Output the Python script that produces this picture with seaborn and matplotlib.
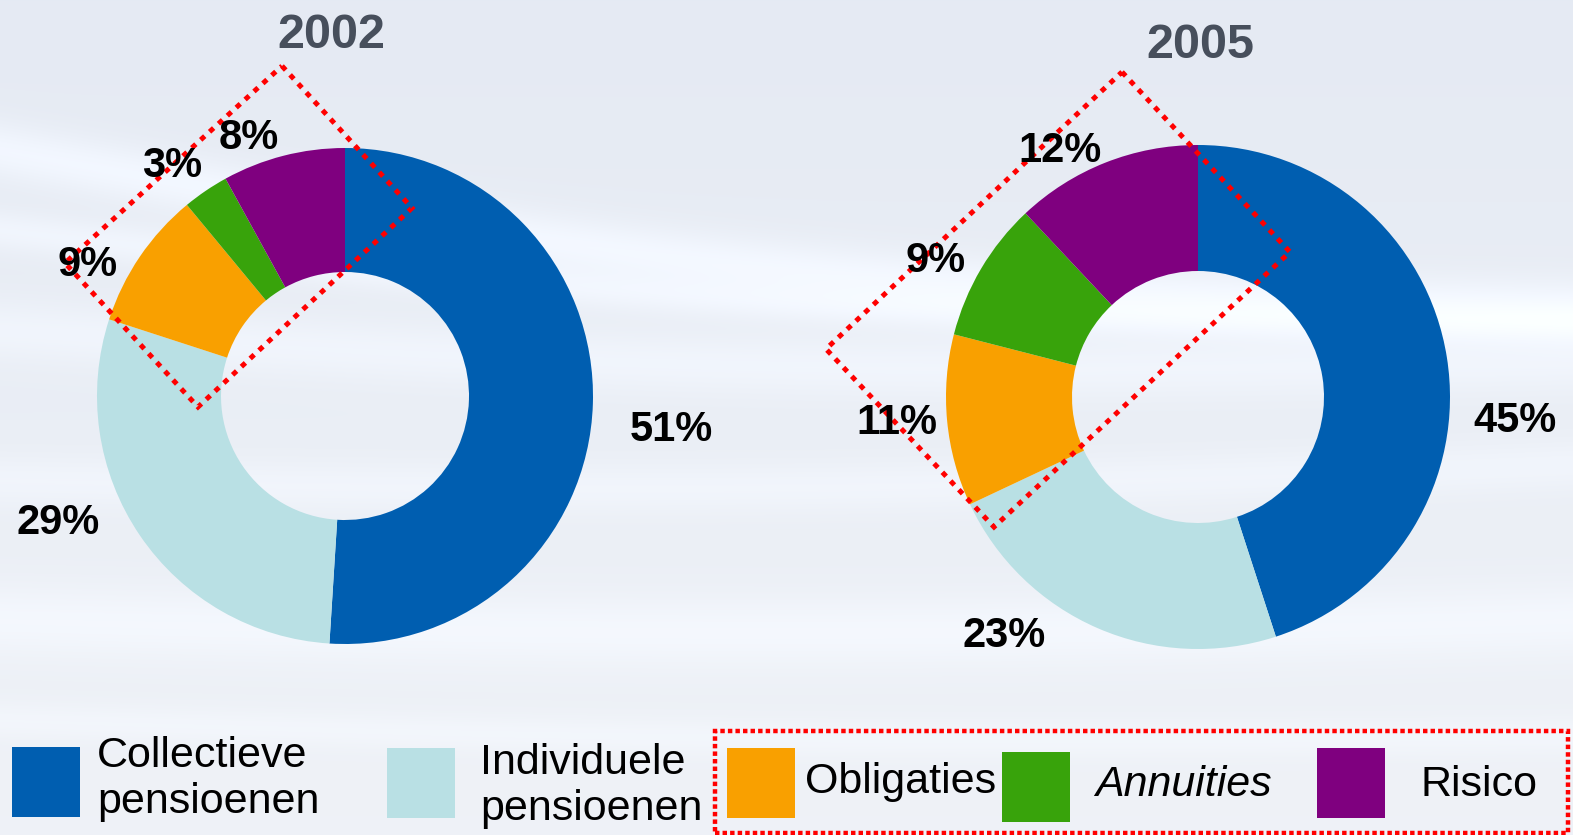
import numpy as np
import pandas as pd
import matplotlib
matplotlib.use("Agg")
import matplotlib.pyplot as plt
import seaborn as sns
from matplotlib.patches import Rectangle, Polygon

# ---------------- data ----------------
categories = ["Collectieve\npensioenen", "Individuele\npensioenen", "Obligaties", "Annuities", "Risico"]
years = ["2002", "2005"]
values_2002 = [51, 29, 9, 3, 8]
values_2005 = [45, 23, 11, 9, 12]
pct_labels_2002 = ["51%", "29%", "9%", "3%", "8%"]
pct_labels_2005 = ["45%", "23%", "11%", "9%", "12%"]

df = pd.DataFrame({"category": categories, "2002": values_2002, "2005": values_2005})

# ---------------- style ----------------
sns.set_theme(style="white")
plt.rcParams["font.family"] = ["Liberation Sans", "DejaVu Sans"]
palette = sns.color_palette(["#005eb0", "#b9e0e4", "#f9a000", "#38a30b", "#7f007f"])

W, H = 1573, 835
fig = plt.figure(figsize=(W / 100, H / 100), dpi=100)
ax = fig.add_axes([0, 0, 1, 1])


def py(y):
    return H - y


# ---------------- background ----------------
Y, X = np.mgrid[0:H, 0:W].astype(float)
top = np.array([0.898, 0.918, 0.953])
bot = np.array([0.937, 0.949, 0.969])
t = (Y / H)[..., None]
img = top * (1 - t) + bot * t
light = np.zeros((H, W))
for a, b, c, w, amp in [(150, 0.10, 40, 28, 0.045), (230, 0.06, 25, 20, 0.035),
                        (330, 0.02, 20, 30, 0.03), (480, -0.01, 15, 25, 0.025),
                        (620, 0.0, 12, 35, 0.03), (720, 0.01, 10, 18, 0.02)]:
    yc = a + b * X + c * np.sin(X / 500.0)
    light += amp * np.exp(-((Y - yc) / w) ** 2)
img = np.clip(img + light[..., None], 0, 1)
ax.imshow(img, extent=(0, W, 0, H), origin="upper", zorder=0, aspect="auto")

# ---------------- donuts ----------------
donuts = [
    dict(year=years[0], vals=df["2002"].tolist(), pcts=pct_labels_2002, cx=345, cy=396, r=248,
         title_xy=(331, 48),
         lab=[(-3.6, 1.32), (-10.9, 1.26), (6.8, 1.17), (2.4, 1.17), (5.8, 1.12)],
         box=[(282, 66), (412, 208), (198, 407), (65, 263)]),
    dict(year=years[1], vals=df["2005"].tolist(), pcts=pct_labels_2005, cx=1198, cy=397, r=252,
         title_xy=(1200, 58),
         lab=[(-12.8, 1.26), (-16.0, 1.21), (-1.1, 1.20), (2.7, 1.18), (7.4, 1.13)],
         box=[(1122, 72), (1290, 252), (994, 527), (826, 349)]),
]

for d in donuts:
    wedges, _ = ax.pie(d["vals"], colors=palette, startangle=90, counterclock=False,
                       radius=d["r"], center=(d["cx"], py(d["cy"])),
                       wedgeprops=dict(width=d["r"] / 2, edgecolor="none", linewidth=0))
    for wdg in wedges:
        wdg.set_zorder(2)
    for wdg, txt, (dang, fac) in zip(wedges, d["pcts"], d["lab"]):
        ang = np.deg2rad((wdg.theta1 + wdg.theta2) / 2 + dang)
        ax.text(d["cx"] + fac * d["r"] * np.cos(ang), py(d["cy"] + 3) + fac * d["r"] * np.sin(ang),
                txt, ha="center", va="center", fontsize=30, fontweight="bold",
                color="black", zorder=5)
    ax.text(d["title_xy"][0], py(d["title_xy"][1]), d["year"], ha="center", va="baseline",
            fontsize=35, fontweight="bold", color="#474f5c", zorder=5)
    ax.add_patch(Polygon([(x, py(y)) for x, y in d["box"]], closed=True, fill=False,
                         edgecolor="#ff0000", linewidth=3.6, linestyle=(0, (1.1, 1.3)),
                         zorder=4))

# ---------------- legend ----------------
leg = [
    dict(sq=(12, 747), tx=(97, 779), style="normal"),
    dict(sq=(387, 748), tx=(480, 786), style="normal"),
    dict(sq=(727, 748), tx=(805, 782), style="normal"),
    dict(sq=(1002, 752), tx=(1095, 785), style="italic"),
    dict(sq=(1317, 748), tx=(1420, 785), style="normal"),
]
for item, cat, col in zip(leg, categories, palette):
    x0, y0 = item["sq"]
    ax.add_patch(Rectangle((x0, py(y0 + 70)), 68, 70, facecolor=col, edgecolor="none", zorder=3))
    ax.text(item["tx"][0], py(item["tx"][1]), cat, ha="left", va="center", fontsize=31,
            fontstyle=item["style"], color="black", linespacing=1.2, zorder=5)

ax.add_patch(Rectangle((715, py(833)), 853, 833 - 731, fill=False, edgecolor="#ff0000",
                       linewidth=3.2, linestyle=(0, (1.0, 0.7)), zorder=4))

ax.set_xlim(0, W)
ax.set_ylim(0, H)
ax.set_aspect("auto")
ax.axis("off")
fig.savefig("out.png", dpi=100)
